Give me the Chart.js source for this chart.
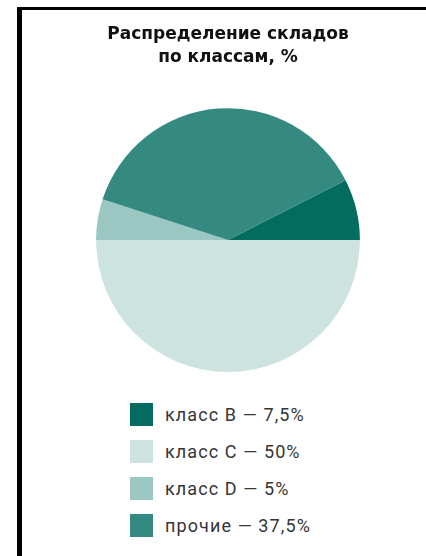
<!DOCTYPE html>
<html>
<head>
<meta charset="utf-8">
<script src="https://cdn.jsdelivr.net/npm/chart.js@4"></script>
<style>
  body { margin: 0; background: #fff; }
  #wrap { position: relative; width: 426px; height: 556px; overflow: hidden; background: #fff; }
  #frameLeft { position: absolute; left: 17px; top: 7px; width: 5px; height: 549px; background: #000; }
  #frameTop { position: absolute; left: 17px; top: 7px; width: 409px; height: 3px; background: #000; }
  #chartBox { position: absolute; left: 0; top: 0; width: 426px; height: 380px; }
  #legend { position: absolute; left: 130px; top: 403px; font-family: Roboto, "Liberation Sans", sans-serif; font-size: 18px; letter-spacing: 1.1px; color: #353535; }
  .item { height: 23px; margin-bottom: 14px; display: flex; align-items: center; }
  .box { width: 23px; height: 23px; margin-right: 12px; }
</style>
</head>
<body>
<div id="wrap">
  <div id="frameLeft"></div>
  <div id="frameTop"></div>
  <div id="chartBox"><canvas id="pieChart"></canvas></div>
  <div id="legend"></div>
</div>
<script>
  // Data
  var classLabels = ['класс B', 'класс C', 'класс D', 'прочие'];
  var classShare = [7.5, 50, 5, 37.5];
  var classShareText = ['7,5%', '50%', '5%', '37,5%'];
  var classColors = ['#036b60', '#cce3e0', '#9bc7c2', '#348a81'];

  var ctx = document.getElementById('pieChart').getContext('2d');
  var pie = new Chart(ctx, {
    type: 'pie',
    data: {
      labels: classLabels,
      datasets: [{
        data: classShare,
        backgroundColor: classColors,
        borderWidth: 0
      }]
    },
    options: {
      responsive: true,
      maintainAspectRatio: false,
      animation: false,
      rotation: 63,
      layout: { padding: { left: 30, bottom: 8 } },
      plugins: {
        legend: { display: false },
        tooltip: { enabled: false },
        title: {
          display: true,
          text: ['Распределение складов', 'по классам, %'],
          color: '#111',
          font: { family: '"DejaVu Sans", sans-serif', size: 17, weight: 'bold', lineHeight: 1.3 },
          padding: { top: 24, bottom: 40 }
        }
      }
    }
  });

  // legend from the same arrays
  var legendEl = document.getElementById('legend');
  classLabels.forEach(function (lbl, i) {
    var row = document.createElement('div');
    row.className = 'item';
    var box = document.createElement('span');
    box.className = 'box';
    box.style.background = classColors[i];
    var txt = document.createElement('span');
    txt.textContent = lbl + ' — ' + classShareText[i];
    row.appendChild(box);
    row.appendChild(txt);
    legendEl.appendChild(row);
  });
</script>
</body>
</html>
